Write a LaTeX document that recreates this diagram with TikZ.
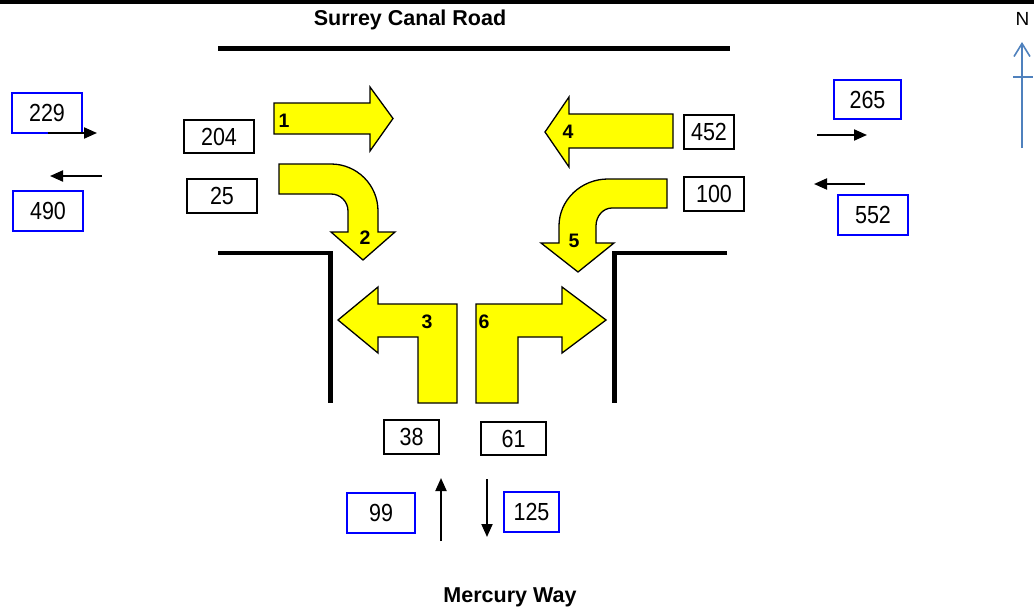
\documentclass[tikz,border=0pt]{standalone}
\usepackage{fontspec}
\setmainfont{Liberation Sans}
\usepackage{graphicx}
\usetikzlibrary{arrows.meta}
\definecolor{northblue}{HTML}{4F81BD}
\definecolor{arrowyellow}{HTML}{FFFF00}
\definecolor{boxblue}{HTML}{0000FF}
\newcommand{\tallnum}[1]{\scalebox{1}[1.15]{#1}}
\tikzset{
  road/.style={line width=4.5pt, line cap=butt, line join=miter},
  turnarrow/.style={fill=arrowyellow, draw=black, line width=1.3pt, line join=miter},
  arrowlabel/.style={font=\fontsize{19.5}{22}\selectfont\bfseries, inner sep=0pt},
  countbox/.style={draw=black, line width=1.2pt, inner sep=0pt, font=\fontsize{21.5}{24}\selectfont},
  flowbox/.style={draw=boxblue, line width=1.4pt, inner sep=0pt, font=\fontsize{21.5}{24}\selectfont},
  flowarrow/.style={line width=2pt, -{Triangle[length=13pt,width=11pt]}},
  roadname/.style={font=\fontsize{21.5}{24}\selectfont\bfseries, inner sep=0pt, anchor=base},
}
\begin{document}
\begin{tikzpicture}[x=1pt,y=-1pt]
\useasboundingbox (0,0) rectangle (1034,610);
% top border
\draw[line width=4.5pt] (0,2.25) -- (1034,2.25);
% road names
\node[roadname] (surrey) at (410,26) {Surrey Canal Road};
\node[roadname] (mercury) at (510,602) {Mercury Way};
% north arrow
\node[font=\fontsize{19}{22}\selectfont, inner sep=0pt, anchor=base] (north) at (1022.5,25.5) {N};
\coordinate (nbot) at (1022,148);
\coordinate (ntop) at (1022,42);
\draw[northblue, line width=1.6pt, -{Straight Barb[length=13pt,width=16pt,line width=1.6pt]}] (nbot) -- (ntop);
\draw[northblue, line width=1.6pt] (1013,77) -- (1033,77);
% road edges
\draw[road, line width=5pt] (218,48.5) -- (730,48.5);
\draw[road] (218,253) -- (330.5,253) -- (330.5,403);
\draw[road] (727,253) -- (614.5,253) -- (614.5,403);
% turn arrows
\draw[turnarrow] (274,103) -- (370,103) -- (370,87) -- (393,118.5) -- (370,151) -- (370,134) -- (274,134) -- cycle;
\draw[turnarrow] (279,164) -- (331,164) arc[start angle=-90,end angle=0,radius=47]
  -- (378,232) -- (395,232) -- (363,260) -- (331,232) -- (348,232) -- (348,211)
  arc[start angle=0,end angle=-90,radius=17] -- (279,194) -- cycle;
\draw[turnarrow] (457,304) -- (457,403) -- (418,403) -- (418,337) -- (378,337) -- (378,353) -- (338,320) -- (378,287) -- (378,304) -- cycle;
\draw[turnarrow] (673,114) -- (569,114) -- (569,97) -- (545,132) -- (569,167) -- (569,148) -- (673,148) -- cycle;
\draw[turnarrow] (667,179) -- (608,179) arc[start angle=-90,end angle=-180,x radius=49,y radius=47]
  -- (559,243) -- (541,243) -- (578,272) -- (614,243) -- (596,243) -- (596,226)
  arc[start angle=180,end angle=270,x radius=16,y radius=18] -- (667,208) -- cycle;
\draw[turnarrow] (476,304) -- (476,403) -- (518,403) -- (518,337) -- (562,337) -- (562,353) -- (606,320) -- (562,287) -- (562,304) -- cycle;
% arrow numbers
\node[arrowlabel] (l1) at (284,121) {1};
\node[arrowlabel] (l2) at (365,238) {2};
\node[arrowlabel] (l3) at (427,322) {3};
\node[arrowlabel] (l4) at (568,132) {4};
\node[arrowlabel] (l5) at (574,241) {5};
\node[arrowlabel] (l6) at (484,322) {6};
% turning counts
\node[countbox, minimum width=70pt, minimum height=33pt] (c204) at (219,136.5) {\tallnum{204}};
\node[countbox, minimum width=70pt, minimum height=34pt] (c25) at (222,196) {\tallnum{25}};
\node[countbox, minimum width=50pt, minimum height=34pt] (c452) at (709,132) {\tallnum{452}};
\node[countbox, minimum width=60pt, minimum height=34pt] (c100) at (714,194) {\tallnum{100}};
\node[countbox, minimum width=55pt, minimum height=34pt] (c38) at (411.5,437) {\tallnum{38}};
\node[countbox, minimum width=65pt, minimum height=33pt] (c61) at (513.5,438.5) {\tallnum{61}};
% link flows
\node[flowbox, minimum width=70pt, minimum height=40pt] (f229) at (47,113) {\tallnum{229}};
\node[flowbox, minimum width=70pt, minimum height=40pt] (f490) at (48,211) {\tallnum{490}};
\node[flowbox, minimum width=67pt, minimum height=39pt] (f265) at (867.5,99.5) {\tallnum{265}};
\node[flowbox, minimum width=70pt, minimum height=40pt] (f552) at (873,215) {\tallnum{552}};
\node[flowbox, minimum width=68pt, minimum height=40pt] (f99) at (381,513) {\tallnum{99}};
\node[flowbox, minimum width=55pt, minimum height=40pt] (f125) at (531.5,512) {\tallnum{125}};
% flow direction arrows
\coordinate (wa1) at (48,133);  \coordinate (wa2) at (97,133);
\coordinate (wb1) at (102,176); \coordinate (wb2) at (50,176);
\coordinate (ea1) at (817,135); \coordinate (ea2) at (867,135);
\coordinate (eb1) at (865,184); \coordinate (eb2) at (814,184);
\coordinate (sa1) at (441,541); \coordinate (sa2) at (441,478);
\coordinate (sb1) at (487,479); \coordinate (sb2) at (487,537);
\draw[flowarrow] (wa1) -- (wa2);
\draw[flowarrow] (wb1) -- (wb2);
\draw[flowarrow] (ea1) -- (ea2);
\draw[flowarrow] (eb1) -- (eb2);
\draw[flowarrow] (sa1) -- (sa2);
\draw[flowarrow] (sb1) -- (sb2);
\end{tikzpicture}
\end{document}
